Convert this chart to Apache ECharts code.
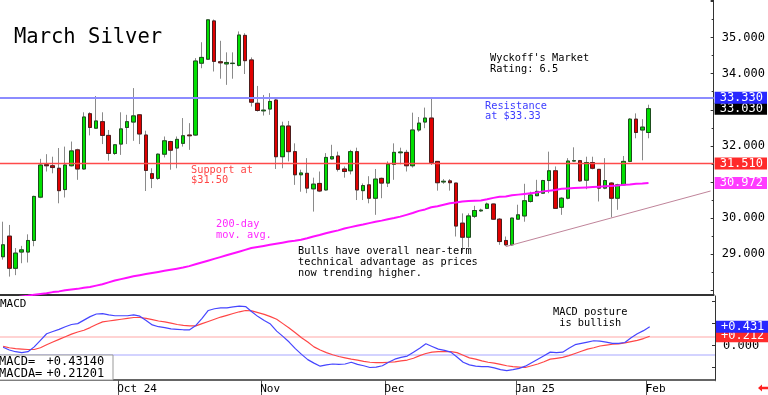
<!DOCTYPE html>
<html><head><meta charset="utf-8">
<script src="https://cdn.jsdelivr.net/npm/echarts@6/dist/echarts.min.js"></script>
<style>html,body{margin:0;padding:0;background:#fff;overflow:hidden}#c{width:768px;height:395px}</style>
</head><body><div id="c"></div>
<script>
// ---------- data ----------
const dates = [
'2024-09-04','2024-09-05','2024-09-06','2024-09-09','2024-09-10','2024-09-11','2024-09-12','2024-09-13','2024-09-16','2024-09-17',
'2024-09-18','2024-09-19','2024-09-20','2024-09-23','2024-09-24','2024-09-25','2024-09-26','2024-09-27','2024-09-30',
'2024-10-01','2024-10-02','2024-10-03','2024-10-04','2024-10-07','2024-10-08','2024-10-09','2024-10-10','2024-10-11','2024-10-14',
'2024-10-15','2024-10-16','2024-10-17','2024-10-18','2024-10-21','2024-10-22','2024-10-23','2024-10-24','2024-10-25','2024-10-28',
'2024-10-29','2024-10-30','2024-10-31',
'2024-11-01','2024-11-04','2024-11-05','2024-11-06','2024-11-07','2024-11-08','2024-11-11','2024-11-12','2024-11-13','2024-11-14',
'2024-11-15','2024-11-18','2024-11-19','2024-11-20','2024-11-21','2024-11-22','2024-11-25','2024-11-26','2024-11-27','2024-11-29',
'2024-12-02','2024-12-03','2024-12-04','2024-12-05','2024-12-06','2024-12-09','2024-12-10','2024-12-11','2024-12-12','2024-12-13',
'2024-12-16','2024-12-17','2024-12-18','2024-12-19','2024-12-20','2024-12-23','2024-12-24','2024-12-26','2024-12-27','2024-12-30','2024-12-31',
'2025-01-02','2025-01-03','2025-01-06','2025-01-07','2025-01-08','2025-01-09','2025-01-10','2025-01-13','2025-01-14','2025-01-15',
'2025-01-16','2025-01-17','2025-01-21','2025-01-22','2025-01-23','2025-01-24','2025-01-27','2025-01-28','2025-01-29','2025-01-30','2025-01-31',
'2025-02-03','2025-02-04','2025-02-05','2025-02-06','2025-02-07','2025-02-10','2025-02-11','2025-02-12','2025-02-13','2025-02-14','2025-02-18'
];
const openP = [28.93,29.50,28.61,29.06,29.06,29.38,30.58,31.48,31.45,31.38,
30.79,31.45,31.89,31.36,32.89,32.49,32.67,32.29,31.79,32.05,
32.51,32.66,32.86,32.30,31.23,31.10,31.77,32.12,31.94,32.07,
32.30,32.30,34.29,34.40,35.46,34.33,34.27,34.28,34.23,35.06,
34.38,33.18,32.97,33.02,33.27,31.70,32.55,31.84,31.20,31.24,
30.81,30.96,30.78,31.64,31.72,31.36,31.31,31.84,30.76,30.92,
30.55,31.10,30.97,31.49,31.81,31.82,31.45,32.44,32.66,32.77,
31.57,31.00,31.03,30.97,29.86,29.47,30.05,30.20,30.27,30.39,
29.97,29.38,29.26,29.97,30.06,30.46,30.62,30.69,31.04,31.31,
30.30,30.55,31.58,31.59,31.05,31.54,31.35,30.83,30.97,30.55,
30.92,31.57,32.74,32.44,32.37];
const highP = [29.90,29.81,29.17,29.23,29.55,30.62,31.64,31.77,31.70,31.94,
31.98,32.12,31.92,32.93,32.93,33.38,32.93,32.44,32.05,32.93,
32.86,33.60,32.88,32.42,31.38,31.79,32.26,32.14,32.26,32.77,
32.63,34.43,34.87,35.50,35.50,34.91,34.59,34.59,35.17,35.12,
34.45,33.66,33.41,33.46,33.30,32.67,32.69,32.07,31.34,31.66,
31.12,31.29,31.80,32.03,31.84,31.43,31.89,31.95,30.96,31.16,
31.36,31.12,31.57,32.07,31.95,31.89,32.92,32.80,33.06,33.30,
31.58,31.08,31.08,30.97,30.13,30.13,30.34,30.26,30.43,30.40,
30.00,29.49,30.01,30.37,30.95,30.73,31.06,31.06,31.84,31.43,
30.58,31.66,31.96,31.61,31.70,31.70,31.36,31.66,30.99,30.95,
31.72,32.77,32.90,32.74,33.14];
const lowP = [28.85,28.38,28.42,28.75,28.77,29.22,30.55,31.29,31.24,30.41,
30.57,31.43,31.06,31.34,32.29,32.47,32.05,31.59,31.75,31.75,
32.05,32.14,32.05,30.75,30.83,31.06,31.68,31.34,31.38,31.98,
31.89,32.28,34.15,34.38,34.06,33.86,33.69,33.86,34.20,33.99,
33.09,32.95,32.84,32.86,31.36,31.38,31.57,30.92,30.73,30.69,
30.18,30.72,30.76,31.62,31.29,31.12,31.21,30.50,30.50,30.41,
30.09,30.55,30.86,31.06,31.49,31.29,31.40,32.39,32.49,31.47,
30.76,30.95,30.76,29.49,29.03,29.19,30.00,30.17,30.25,29.95,
29.26,29.23,29.23,29.97,29.90,30.43,30.61,30.67,30.69,30.27,
30.09,30.52,31.56,31.01,30.80,31.35,30.46,30.80,30.02,30.23,
30.90,31.55,32.21,31.60,32.21];
const closeP = [29.26,28.61,29.03,29.12,29.38,30.60,31.47,31.45,31.40,30.76,
31.47,31.86,31.36,32.80,32.51,32.69,32.29,31.79,32.03,32.47,
32.67,32.83,32.33,31.32,31.10,31.77,32.14,31.88,32.18,32.28,
32.28,34.35,34.45,35.49,34.34,34.30,34.31,34.29,35.07,34.36,
33.21,32.98,32.99,33.23,31.70,32.55,31.84,31.20,31.25,30.83,
30.94,30.75,31.68,31.70,31.35,31.29,31.84,30.78,30.90,30.55,
31.08,30.97,31.49,31.82,31.83,31.45,32.44,32.63,32.77,31.54,
30.98,31.02,30.98,29.78,29.47,30.06,30.21,30.22,30.39,29.97,
29.35,29.26,30.00,30.09,30.48,30.64,30.74,31.04,31.31,30.27,
30.55,31.58,31.59,31.03,31.54,31.38,30.83,31.04,30.55,30.92,
31.57,32.74,32.37,32.52,33.03];
const ma200 = [27.76,27.78,27.80,27.83,27.85,27.88,27.90,27.92,27.95,27.97,
28.00,28.02,28.04,28.07,28.09,28.13,28.17,28.22,28.27,28.31,
28.35,28.39,28.42,28.45,28.48,28.51,28.54,28.57,28.60,28.63,
28.67,28.72,28.77,28.82,28.87,28.92,28.97,29.02,29.07,29.12,
29.17,29.20,29.23,29.26,29.29,29.32,29.35,29.37,29.40,29.44,
29.49,29.53,29.58,29.62,29.66,29.71,29.75,29.79,29.82,29.86,
29.90,29.93,29.97,30.00,30.04,30.09,30.14,30.20,30.24,30.30,
30.33,30.37,30.41,30.43,30.46,30.47,30.48,30.49,30.52,30.56,
30.59,30.60,30.63,30.65,30.67,30.69,30.71,30.74,30.76,30.78,
30.81,30.82,30.83,30.84,30.85,30.86,30.87,30.88,30.89,30.90,
30.92,30.93,30.95,30.96,30.972];
const macd = [-0.04,-0.10,-0.14,-0.16,-0.14,-0.03,0.12,0.27,0.32,0.37,
0.43,0.48,0.50,0.58,0.66,0.72,0.73,0.70,0.68,0.68,
0.68,0.70,0.67,0.57,0.47,0.43,0.41,0.38,0.37,0.36,
0.36,0.46,0.62,0.80,0.84,0.86,0.86,0.88,0.90,0.89,
0.77,0.66,0.57,0.49,0.33,0.21,0.08,-0.07,-0.20,-0.32,
-0.40,-0.47,-0.44,-0.42,-0.43,-0.42,-0.38,-0.43,-0.46,-0.50,
-0.49,-0.46,-0.38,-0.31,-0.27,-0.24,-0.15,-0.06,0.04,-0.02,
-0.08,-0.11,-0.15,-0.26,-0.38,-0.44,-0.47,-0.48,-0.48,-0.51,
-0.55,-0.57,-0.55,-0.52,-0.47,-0.39,-0.31,-0.23,-0.15,-0.16,
-0.15,-0.06,0.02,0.05,0.08,0.11,0.10,0.08,0.05,0.05,
0.07,0.18,0.27,0.34,0.4314];
const macdAvg = [-0.02,-0.05,-0.07,-0.08,-0.09,-0.09,-0.05,0.02,0.08,0.14,
0.20,0.26,0.31,0.35,0.41,0.48,0.54,0.56,0.58,0.60,
0.62,0.64,0.64,0.62,0.59,0.56,0.54,0.51,0.48,0.46,
0.45,0.45,0.50,0.55,0.60,0.65,0.69,0.73,0.77,0.80,
0.79,0.75,0.71,0.66,0.60,0.50,0.40,0.29,0.18,0.08,
-0.03,-0.10,-0.16,-0.21,-0.25,-0.28,-0.31,-0.33,-0.36,-0.38,
-0.39,-0.39,-0.38,-0.37,-0.35,-0.33,-0.29,-0.23,-0.18,-0.15,
-0.14,-0.14,-0.14,-0.16,-0.22,-0.28,-0.31,-0.35,-0.38,-0.40,
-0.43,-0.46,-0.48,-0.49,-0.50,-0.46,-0.42,-0.37,-0.31,-0.29,
-0.27,-0.23,-0.18,-0.13,-0.08,-0.05,-0.01,0.01,0.03,0.04,
0.06,0.09,0.12,0.16,0.21201];
const monthTickIdx = [19, 42, 62, 83, 104];
const monthTickLabels = ['Oct 24', 'Nov', 'Dec', 'Jan 25', 'Feb'];
const priceTickLabels = [29, 30, 32, 34, 35];
const macdTickLabels = [0];
const resistance = 33.33;
const support = 31.51;
const macdBands = [0.2, -0.2];
const trendFrom = [81, 29.21];
const trendTo = [114, 30.75];

// ---------- chart ----------
const mono = 'DejaVu Sans Mono';
const last = closeP.length - 1;
const wickData = openP.map((o, i) => [o, closeP[i], lowP[i], highP[i]]);
const bodyData = openP.map((o, i) => [o, closeP[i], Math.min(o, closeP[i]), Math.max(o, closeP[i])]);
const hidden = { color: 'rgba(0,0,0,0)', width: 0 };

function tag(value, text, bg, lineStyle) {
  return {
    yAxis: value,
    lineStyle: lineStyle || hidden,
    label: { show: true, position: 'end', distance: 1, formatter: text, color: '#fff', opacity: 1,
      backgroundColor: bg, padding: [1, 4, 0, 5], fontFamily: mono, fontSize: 12, lineHeight: 11 }
  };
}
function note(x, y, text, color, size, lh) {
  return { type: 'text', left: x, top: y, z: 50,
    style: { text: text, fill: color, fontFamily: mono, fontSize: size, lineHeight: lh } };
}

const chart = echarts.init(document.getElementById('c'));
chart.setOption({
  animation: false,
  backgroundColor: '#fff',
  grid: [
    { left: -2.6, right: 53, top: 0, height: 295 },
    { left: -2.6, right: 53, top: 296, height: 84 }
  ],
  xAxis: [
    { type: 'category', gridIndex: 0, data: dates, boundaryGap: true,
      axisLine: { show: true, onZero: false, lineStyle: { color: '#333', width: 2 } },
      axisTick: { show: false }, axisLabel: { show: false }, splitLine: { show: false } },
    { type: 'category', gridIndex: 1, data: dates, boundaryGap: true,
      axisLine: { show: true, onZero: false, lineStyle: { color: '#333', width: 1.5 } },
      axisTick: { show: true, length: 15, interval: (i) => monthTickIdx.includes(i), lineStyle: { color: '#555' } },
      axisLabel: { show: true, interval: (i) => monthTickIdx.includes(i),
        formatter: (v, i) => monthTickLabels[monthTickIdx.indexOf(i)] || '',
        align: 'left', margin: 4, padding: [0, 0, 0, -4], fontFamily: mono, fontSize: 11, color: '#000' },
      splitLine: { show: false } }
  ],
  yAxis: [
    { type: 'value', gridIndex: 0, position: 'right', min: 27.87, max: 36.04, splitNumber: 8,
      axisLine: { show: true, lineStyle: { color: '#333' } },
      axisTick: { show: true, inside: true, length: 3, lineStyle: { color: '#333' } },
      minorTick: { show: true, splitNumber: 2, length: 2, lineStyle: { color: '#333' } },
      splitLine: { show: false },
      axisLabel: { showMinLabel: false, showMaxLabel: false, margin: 8,
        formatter: (v) => priceTickLabels.includes(Math.round(v * 1000) / 1000) ? v.toFixed(3) : '',
        fontFamily: mono, fontSize: 12, color: '#000' } },
    { type: 'value', gridIndex: 1, position: 'right', min: -0.785, max: 1.13, splitNumber: 4,
      axisLine: { show: true, lineStyle: { color: '#333' } },
      axisTick: { show: true, inside: true, length: 3, lineStyle: { color: '#333' } },
      splitLine: { show: false },
      axisLabel: { showMinLabel: false, showMaxLabel: false, margin: 8,
        formatter: (v) => macdTickLabels.includes(Math.round(v * 1000) / 1000) ? v.toFixed(3) : '',
        fontFamily: mono, fontSize: 12, color: '#000' } }
  ],
  series: [
    { name: 'wick', type: 'candlestick', xAxisIndex: 0, yAxisIndex: 0, data: wickData, barWidth: 4, z: 2,
      itemStyle: { color: '#8a8a8a', color0: '#8a8a8a', borderColor: '#8a8a8a', borderColor0: '#8a8a8a', borderWidth: 1 } },
    { name: 'body', type: 'candlestick', xAxisIndex: 0, yAxisIndex: 0, data: bodyData, barWidth: 4, z: 3,
      itemStyle: { color: '#00e000', color0: '#e00000', borderColor: '#1d4d1d', borderColor0: '#4d1d1d', borderWidth: 1 },
      markLine: { silent: true, symbol: 'none', z: 6,
        data: [
          tag(closeP[last], closeP[last].toFixed(3), '#000'),
          tag(resistance, resistance.toFixed(3), '#2828ff', { color: '#8c8cff', width: 2, type: 'solid' }),
          tag(support, support.toFixed(3), '#ff2a2a', { color: '#ff4a4a', width: 1.3, type: 'solid' }),
          [ { coord: [dates[trendFrom[0]], trendFrom[1]], lineStyle: { color: '#c0849a', width: 1, type: 'solid' }, label: { show: false } },
            { coord: [dates[trendTo[0]], trendTo[1]] } ]
        ] } },
    { name: '200-day', type: 'line', xAxisIndex: 0, yAxisIndex: 0, data: ma200, showSymbol: false, z: 4,
      lineStyle: { color: '#ff10ff', width: 2 },
      markLine: { silent: true, symbol: 'none', z: 6, data: [ tag(ma200[last], ma200[last].toFixed(3), '#ff3cff') ] } },
    { name: 'MACDA', type: 'line', xAxisIndex: 1, yAxisIndex: 1, data: macdAvg, showSymbol: false, z: 4,
      lineStyle: { color: '#ff4646', width: 1.2 },
      markLine: { silent: true, symbol: 'none', z: 2,
        data: [
          { yAxis: macdBands[0], lineStyle: { color: '#ffc4c4', width: 1.5, type: 'solid' }, label: { show: false } },
          { yAxis: macdBands[1], lineStyle: { color: '#c4c4ff', width: 1.5, type: 'solid' }, label: { show: false } },
          tag(macdAvg[last], '+' + macdAvg[last].toFixed(3), '#ff2a2a')
        ] } },
    { name: 'MACD', type: 'line', xAxisIndex: 1, yAxisIndex: 1, data: macd, showSymbol: false, z: 5,
      lineStyle: { color: '#4646ff', width: 1.2 },
      markLine: { silent: true, symbol: 'none', z: 7,
        data: [ tag(macd[last], '+' + macd[last].toFixed(3), '#2828ff') ] } }
  ],
  graphic: [
    note(14, 26, 'March Silver', '#000', 20.5, 24),
    note(490, 53, "Wyckoff's Market\nRating: 6.5", '#000', 10.3, 11),
    note(485, 101.5, 'Resistance\nat $33.33', '#3c3cff', 10.3, 10),
    note(191, 165, 'Support at\n$31.50', '#ff4646', 10.3, 10),
    note(216, 218.5, '200-day\nmov. avg.', '#ff28ff', 10.3, 11),
    note(298, 245.5, 'Bulls have overall near-term\ntechnical advantage as prices\nnow trending higher.', '#000', 10.3, 11),
    note(553, 306.5, 'MACD posture\n is bullish', '#000', 10.3, 11),
    note(0, 298.5, 'MACD', '#000', 11, 11),
    { type: 'rect', z: 40, shape: { x: -1, y: 355, width: 114, height: 25 }, style: { fill: '#fff', stroke: '#999', lineWidth: 1 } },
    note(-1, 356, 'MACD=\nMACDA=', '#000', 12, 11.6),
    note(46.5, 356, '+' + macd[last].toFixed(5) + '\n+' + macdAvg[last].toFixed(5), '#000', 12, 11.6),
    { type: 'rect', z: 60, shape: { x: 713.6, y: 381.2, width: 5, height: 14 }, style: { fill: '#fff' } },
    { type: 'polygon', z: 50, shape: { points: [[758, 388], [762, 384.5], [762, 386.8], [768, 386.8], [768, 389.2], [762, 389.2], [762, 391.5]] },
      style: { fill: '#ff2020' } }
  ]
});
</script></body></html>
